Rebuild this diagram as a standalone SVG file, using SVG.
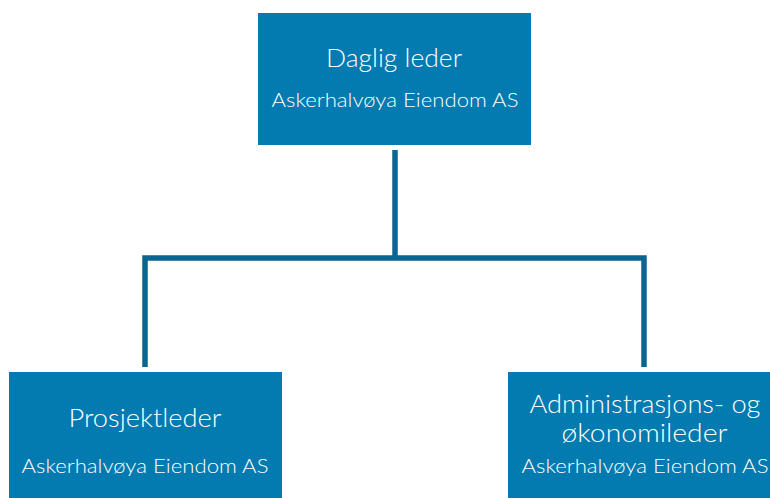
<svg xmlns="http://www.w3.org/2000/svg" width="770" height="498" viewBox="0 0 770 498">
<style>
.box{fill:#037AB0}
.conn{fill:none;stroke:#0B6590;stroke-width:5.5;stroke-linejoin:miter}
.t{font-family:"Lato","Open Sans","Liberation Sans",sans-serif;font-weight:300;fill:#FFFFFF;text-anchor:middle}
.title{font-size:26px}
.sub{font-size:20px}
</style>
<rect width="770" height="498" fill="#FFFFFF"/>
<g id="connectors">
<path class="conn" d="M395,150 V258"/>
<path class="conn" d="M145,367 V258 H644 V367"/>
</g>
<g id="daglig-leder">
<rect class="box" x="258" y="13" width="273" height="132"/>
<text class="t title" x="394" y="67" textLength="136" lengthAdjust="spacingAndGlyphs">Daglig leder</text>
<text class="t sub" x="395" y="107" textLength="247" lengthAdjust="spacingAndGlyphs">Askerhalvøya Eiendom AS</text>
</g>
<g id="prosjektleder">
<rect class="box" x="9" y="372" width="273" height="130"/>
<text class="t title" x="145" y="427" textLength="153" lengthAdjust="spacingAndGlyphs">Prosjektleder</text>
<text class="t sub" x="145" y="473" textLength="247" lengthAdjust="spacingAndGlyphs">Askerhalvøya Eiendom AS</text>
</g>
<g id="administrasjonsleder">
<rect class="box" x="508" y="372" width="273" height="130"/>
<text class="t title" x="645" y="413" textLength="231" lengthAdjust="spacingAndGlyphs">Administrasjons- og</text>
<text class="t title" x="644.5" y="442" textLength="166" lengthAdjust="spacingAndGlyphs">økonomileder</text>
<text class="t sub" x="645" y="473" textLength="247" lengthAdjust="spacingAndGlyphs">Askerhalvøya Eiendom AS</text>
</g>
</svg>
